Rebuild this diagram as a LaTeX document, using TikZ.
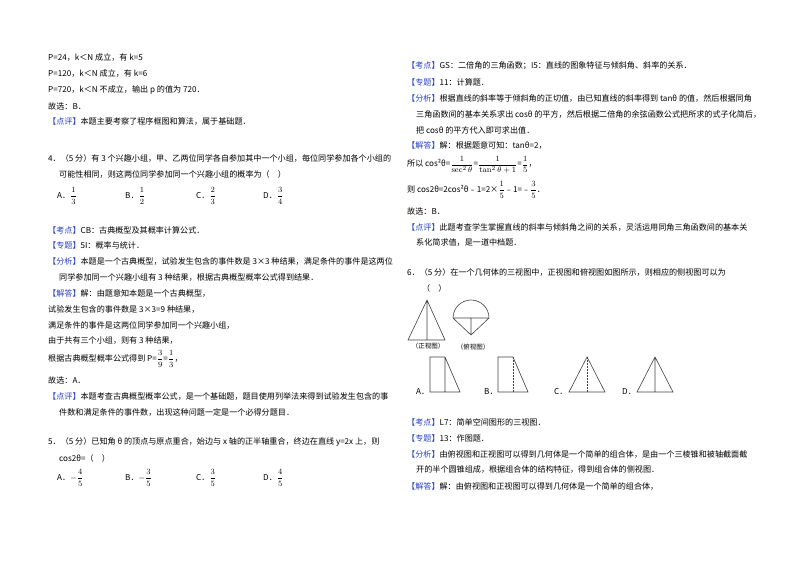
\documentclass[tikz,border=0pt]{standalone}
\usepackage{fontspec}
\newfontfamily\cjk{Noto Sans CJK SC}
\definecolor{tagblue}{HTML}{2B3FC8}
\newcommand\tg[1]{\textcolor{tagblue}{【#1】}}
\newcommand\fr[2]{$\displaystyle\frac{#1}{#2}$}
\begin{document}
\begin{tikzpicture}[x=1pt,y=-1pt,
  every node/.style={anchor=west,inner sep=0,font=\cjk\fontsize{8.1}{9}\selectfont},
  fig/.style={line width=0.6pt,draw=black!75},
  dashline/.style={line width=0.6pt,draw=black!75,dash pattern=on 1.5pt off 1.5pt}]
\useasboundingbox (0,0) rectangle (800,565);
% left column
\node (l1) at (48,58) {P=24，k＜N 成立，有 k=5};
\node (l2) at (48,74) {P=120，k＜N 成立，有 k=6};
\node (l3) at (48,90) {P=720，k＜N 不成立，输出 p 的值为 720．};
\node (l4) at (48,106) {故选：B．};
\node (l5) at (48,122) {\tg{点评}本题主要考察了程序框图和算法，属于基础题．};
\node (q4a) at (48,158) {4．（5 分）有 3 个兴趣小组，甲、乙两位同学各自参加其中一个小组，每位同学参加各个小组的};
\node (q4b) at (59,174) {可能性相同，则这两位同学参加同一个兴趣小组的概率为（\quad ）};
\node (q4A) at (57,196) {A．\fr13};
\node (q4B) at (125,196) {B．\fr12};
\node (q4C) at (196,196) {C．\fr23};
\node (q4D) at (263,196) {D．\fr34};
\node (k4) at (48,230) {\tg{考点}CB：古典概型及其概率计算公式．};
\node (z4) at (48,245) {\tg{专题}5I：概率与统计．};
\node (f4a) at (48,261) {\tg{分析}本题是一个古典概型，试验发生包含的事件数是 3×3 种结果，满足条件的事件是这两位};
\node (f4b) at (59,277) {同学参加同一个兴趣小组有 3 种结果，根据古典概型概率公式得到结果．};
\node (j4) at (48,293) {\tg{解答}解：由题意知本题是一个古典概型，};
\node (j4b) at (48,309) {试验发生包含的事件数是 3×3=9 种结果，};
\node (j4c) at (48,325) {满足条件的事件是这两位同学参加同一个兴趣小组，};
\node (j4d) at (48,341) {由于共有三个小组，则有 3 种结果，};
\node (j4e) at (48,359) {根据古典概型概率公式得到 P=\fr39=\fr13，};
\node (g4) at (48,380) {故选：A．};
\node (p4a) at (48,396) {\tg{点评}本题考查古典概型概率公式，是一个基础题，题目使用列举法来得到试验发生包含的事};
\node (p4b) at (59,412) {件数和满足条件的事件数，出现这种问题一定是一个必得分题目．};
\node (q5a) at (48,442) {5．（5 分）已知角 θ 的顶点与原点重合，始边与 x 轴的正半轴重合，终边在直线 y=2x 上，则};
\node (q5b) at (59,458) {cos2θ=（\quad ）};
\node (q5A) at (57,478) {A．$-\displaystyle\frac45$};
\node (q5B) at (125,478) {B．$-\displaystyle\frac35$};
\node (q5C) at (196,478) {C．\fr35};
\node (q5D) at (263,478) {D．\fr45};
% right column
\node (k5) at (407,66) {\tg{考点}GS：二倍角的三角函数；I5：直线的图象特征与倾斜角、斜率的关系．};
\node (z5) at (407,82) {\tg{专题}11：计算题．};
\node (f5a) at (407,98) {\tg{分析}根据直线的斜率等于倾斜角的正切值，由已知直线的斜率得到 tanθ 的值，然后根据同角};
\node (f5b) at (416,114) {三角函数间的基本关系求出 cosθ 的平方，然后根据二倍角的余弦函数公式把所求的式子化简后，};
\node (f5c) at (416,130) {把 cosθ 的平方代入即可求出值．};
\node (j5) at (407,145) {\tg{解答}解：根据题意可知：tanθ=2，};
\node (j5b) at (407,165) {所以 cos²θ=$\displaystyle\frac{1}{\sec^2\theta}$=$\displaystyle\frac{1}{\tan^2\theta+1}$=\fr15，};
\node (j5c) at (407,190) {则 cos2θ=2cos²θ﹣1=2×\fr15﹣1=﹣\fr35．};
\node (g5) at (407,211) {故选：B．};
\node (p5a) at (407,227) {\tg{点评}此题考查学生掌握直线的斜率与倾斜角之间的关系，灵活运用同角三角函数间的基本关};
\node (p5b) at (416,243) {系化简求值，是一道中档题．};
\node (q6a) at (407,272) {6．（5 分）在一个几何体的三视图中，正视图和俯视图如图所示，则相应的侧视图可以为};
\node (q6b) at (422,288) {（\quad ）};
% figures
\coordinate (fa) at (427,300); \coordinate (fl) at (408,340); \coordinate (fr) at (445,340); \coordinate (fm) at (427,340);
\draw[fig] (fa) -- (fl) -- (fr) -- cycle (fa) -- (fm);
\coordinate (tc) at (471,318); \coordinate (tl) at (453,318); \coordinate (trr) at (489,318); \coordinate (tb) at (471,335);
\draw[fig] (tl) arc (180:360:18) -- (tl) (tl) -- (tb) -- (trr) (tc) -- (tb);
\node[font=\cjk\fontsize{6.5}{8}\selectfont,anchor=center] (zl) at (428,346) {（正视图）};
\node[font=\cjk\fontsize{6.5}{8}\selectfont,anchor=center] (fl2) at (473,347) {（俯视图）};
\draw[fig] (430,392) -- (430,357) -- (445,357) -- (460,392) -- cycle (445,357) -- (445,392);
\draw[fig] (513,392) -- (498,392) -- (498,357) -- (513,357) -- (528,392) -- (513,392);
\draw[dashline] (513,357) -- (513,392);
\draw[fig] (587,357) -- (569,392) -- (605,392) -- cycle;
\draw[dashline] (587,357) -- (587,392);
\draw[fig] (655,357) -- (637,392) -- (673,392) -- cycle (655,357) -- (655,392);
\node (oA) at (416,392) {A．};
\node (oB) at (484,392) {B．};
\node (oC) at (554,392) {C．};
\node (oD) at (622,392) {D．};
\node (k6) at (407,422) {\tg{考点}L7：简单空间图形的三视图．};
\node (z6) at (407,438) {\tg{专题}13：作图题．};
\node (f6a) at (407,454) {\tg{分析}由俯视图和正视图可以得到几何体是一个简单的组合体，是由一个三棱锥和被轴截面截};
\node (f6b) at (416,470) {开的半个圆锥组成，根据组合体的结构特征，得到组合体的侧视图．};
\node (j6) at (407,486) {\tg{解答}解：由俯视图和正视图可以得到几何体是一个简单的组合体，};
\end{tikzpicture}
\end{document}
